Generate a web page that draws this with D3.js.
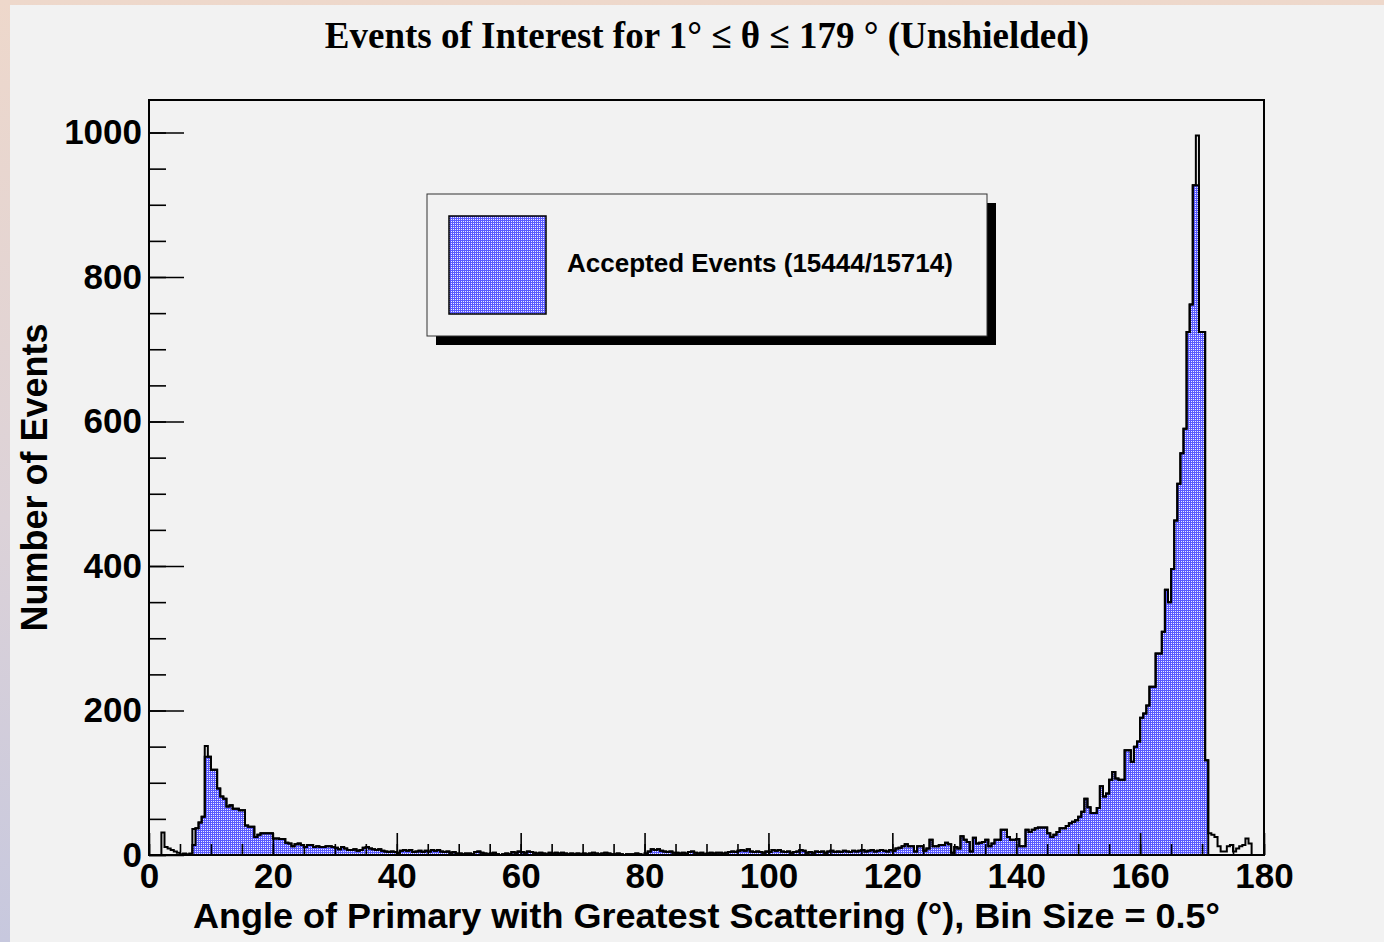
<!DOCTYPE html>
<html>
<head>
<meta charset="utf-8">
<script src="https://cdn.jsdelivr.net/npm/d3@7"></script>
<style>
  html, body { margin: 0; padding: 0; overflow: hidden; background: #f2f2f2; }
  svg { display: block; }
</style>
</head>
<body>
<svg id="chart" width="1384" height="942"></svg>
<script>
// Histogram of the scattering angle, 0.5 degree bins from 0 to 180.
const binWidth = 0.5;
const xDomain = [0, 180];

// Accepted events per bin (filled histogram), 20 bins (10 degrees) per row.
const accepted = [
  0,0,0,0,0,0,0,0,0,0, 0,0,0,0,14,37,45,53,136,136,
  118,118,92,81,78,67,69,64,64,62, 62,41,39,39,25,28,30,30,30,30,
  23,23,22,22,17,16,12,15,16,14, 11,14,14,11,12,11,11,12,12,11,
  10,8,11,9,7,7,8,6,7,10, 11,9,8,7,8,6,5,4,5,4,
  3,6,7,6,7,4,5,6,4,6, 5,7,6,7,5,4,5,3,4,2,
  2,1,2,2,1,4,5,3,2,1, 2,3,1,0,1,2,1,4,3,5,
  4,3,5,4,3,2,3,2,1,3, 2,3,2,3,2,1,2,1,2,1,
  2,1,2,3,2,1,2,3,2,1, 1,2,1,0,1,1,1,2,1,0,
  2,5,8,7,8,6,5,4,5,3, 3,2,3,2,4,5,3,2,3,1,
  2,3,2,3,3,2,3,4,5,4, 6,7,6,8,5,4,5,4,3,5,
  4,7,6,7,5,4,5,3,4,5, 7,6,3,4,3,5,4,5,3,5,
  6,4,5,4,6,5,4,6,5,6, 7,5,6,7,5,6,7,6,5,7,
  6,9,10,12,15,12,12,5,12,12, 6,9,21,12,12,14,14,17,15,3,
  11,9,26,21,18,5,24,16,17,18, 21,12,16,21,21,35,35,25,21,21,
  22,12,12,35,32,35,37,38,38,38, 30,25,28,32,37,37,40,44,46,48,
  53,60,78,66,58,58,65,95,81,85, 104,115,106,104,104,145,145,129,150,157,
  190,196,207,233,233,279,279,309,367,350, 396,463,514,556,590,724,762,927,927,724,
  724,131,0,0,0,0,0,0,0,0, 0,0,0,0,0,0,0,0,0,0
];

// Rejected events per bin; all events = accepted + rejected (outline histogram).
const rejected = [
  0,0,0,0,31,11,9,7,5,3, 1,2,1,2,22,0,0,0,15,0,
  0,0,0,0,0,0,0,0,0,0, 0,0,0,0,0,0,0,0,0,0,
  0,0,0,0,0,0,0,0,0,0, 0,0,0,0,0,0,0,0,0,0,
  0,0,0,0,0,0,0,0,0,0, 0,0,0,0,0,0,0,0,0,0,
  0,0,0,0,0,0,0,0,0,0, 0,0,0,0,0,0,0,0,0,0,
  0,0,0,0,0,0,0,0,0,0, 0,0,0,0,0,0,0,0,0,0,
  0,0,0,0,0,0,0,0,0,0, 0,0,0,0,0,0,0,0,0,0,
  0,0,0,0,0,0,0,0,0,0, 0,0,0,0,0,0,0,0,0,0,
  0,0,0,0,0,0,0,0,0,0, 0,0,0,0,0,0,0,0,0,0,
  0,0,0,0,0,0,0,0,0,0, 0,0,0,0,0,0,0,0,0,0,
  0,0,0,0,0,0,0,0,0,0, 0,0,0,0,0,0,0,0,0,0,
  0,0,0,0,0,0,0,0,0,0, 0,0,0,0,0,0,0,0,0,0,
  0,0,0,0,0,0,0,0,0,0, 0,0,0,0,0,0,0,0,0,0,
  0,0,0,0,0,0,0,0,0,0, 0,0,0,0,0,0,0,0,0,0,
  0,0,0,0,0,0,0,0,0,0, 0,0,0,0,0,0,0,0,0,0,
  0,0,0,0,0,0,0,0,0,0, 0,0,0,0,0,0,0,0,0,0,
  0,0,0,0,0,0,0,0,0,0, 0,0,0,0,0,0,0,0,69,0,
  0,0,30,28,25,12,5,5,12,14, 5,9,12,14,23,16,0,0,0,0
];

const xTickValues = [0, 20, 40, 60, 80, 100, 120, 140, 160, 180];
const xMinorTickValues = d3.range(0, 181, 5);
const yTickValues = [0, 200, 400, 600, 800, 1000];
const yMinorTickValues = d3.range(0, 1001, 50);
const yMax = 1045;

const titleText = "Events of Interest for 1\u00B0 \u2264 \u03B8 \u2264 179 \u00B0 (Unshielded)";
const xTitle = "Angle of Primary with Greatest Scattering (\u00B0), Bin Size = 0.5\u00B0";
const yTitle = "Number of Events";
const legendLabel = "Accepted Events (15444/15714)";

const allEvents = accepted.map((v, i) => v + rejected[i]);

const svg = d3.select("#chart");
const sans = "'Liberation Sans', Arial, Helvetica, sans-serif";
const serif = "'Liberation Serif', 'Times New Roman', serif";

// Page backdrop and canvas
const defs = svg.append("defs");
const bg = defs.append("linearGradient").attr("id", "pageGrad")
  .attr("x1", 0).attr("y1", 0).attr("x2", 0).attr("y2", 1);
bg.append("stop").attr("offset", "0%").attr("stop-color", "#eed8cb");
bg.append("stop").attr("offset", "55%").attr("stop-color", "#dcd2d8");
bg.append("stop").attr("offset", "100%").attr("stop-color", "#c7c8de");
svg.append("rect").attr("width", 1384).attr("height", 942).attr("fill", "url(#pageGrad)");
svg.append("rect").attr("x", 10).attr("y", 5).attr("width", 1374).attr("height", 937).attr("fill", "#f2f2f2");

// Dotted blue fill pattern
const pat = defs.append("pattern").attr("id", "dots")
  .attr("width", 2).attr("height", 2).attr("patternUnits", "userSpaceOnUse");
pat.append("rect").attr("width", 2).attr("height", 2).attr("fill", "#5a5aff");
pat.append("rect").attr("x", 1).attr("y", 1).attr("width", 1).attr("height", 1).attr("fill", "#ececff");

const frame = { left: 149, right: 1264, top: 100, bottom: 855 };
const x = d3.scaleLinear().domain(xDomain).range([frame.left, frame.right]);
const y = d3.scaleLinear().domain([0, yMax]).range([frame.bottom, frame.top]);

function stepPoints(counts) {
  const pts = [[x(xDomain[0]), y(0)]];
  counts.forEach((c, i) => {
    pts.push([x(i * binWidth), y(c)], [x((i + 1) * binWidth), y(c)]);
  });
  pts.push([x(xDomain[1]), y(0)]);
  return pts;
}
const line = d3.line();

// Accepted: filled histogram with black contour
svg.append("path").attr("d", line(stepPoints(accepted)) + "Z")
  .attr("fill", "url(#dots)").attr("stroke", "none");
svg.append("path").attr("d", line(stepPoints(accepted)))
  .attr("fill", "none").attr("stroke", "#000").attr("stroke-width", 2);

// All events: outline histogram
svg.append("path").attr("d", line(stepPoints(allEvents)))
  .attr("fill", "none").attr("stroke", "#000").attr("stroke-width", 2);

// Axes: ticks drawn inward from the frame
function styleAxis(g) {
  g.select(".domain").remove();
  g.selectAll(".tick line").attr("stroke", "#000").attr("stroke-width", 1.6);
  g.selectAll(".tick text").attr("fill", "#000")
    .style("font-family", sans).style("font-weight", "bold").style("font-size", "35px");
}
svg.append("g").attr("transform", `translate(0,${frame.bottom})`)
  .call(d3.axisBottom(x).tickValues(xMinorTickValues).tickSize(-11).tickFormat(""))
  .call(styleAxis);
svg.append("g").attr("transform", `translate(0,${frame.bottom})`)
  .call(d3.axisBottom(x).tickValues(xTickValues).tickSize(-22).tickPadding(8).tickFormat(d3.format("d")))
  .call(styleAxis);
svg.append("g").attr("transform", `translate(${frame.left},0)`)
  .call(d3.axisLeft(y).tickValues(yMinorTickValues).tickSize(-17).tickFormat(""))
  .call(styleAxis);
svg.append("g").attr("transform", `translate(${frame.left},0)`)
  .call(d3.axisLeft(y).tickValues(yTickValues).tickSize(-35).tickPadding(7).tickFormat(d3.format("d")))
  .call(styleAxis);

// Frame
svg.append("rect")
  .attr("x", frame.left).attr("y", frame.top)
  .attr("width", frame.right - frame.left).attr("height", frame.bottom - frame.top)
  .attr("fill", "none").attr("stroke", "#000").attr("stroke-width", 2);

// Title and axis titles
svg.append("text").attr("x", 707).attr("y", 48).attr("text-anchor", "middle")
  .style("font-family", serif).style("font-weight", "bold").style("font-size", "37px")
  .text(titleText);
svg.append("text").attr("x", (frame.left + frame.right) / 2).attr("y", 928).attr("text-anchor", "middle")
  .style("font-family", sans).style("font-weight", "bold").style("font-size", "35px")
  .attr("textLength", 1027).attr("lengthAdjust", "spacingAndGlyphs")
  .text(xTitle);
svg.append("text").attr("transform", `translate(47,${(frame.top + frame.bottom) / 2}) rotate(-90)`)
  .attr("text-anchor", "middle")
  .style("font-family", sans).style("font-weight", "bold").style("font-size", "36px")
  .text(yTitle);

// Legend with drop shadow
const legend = { x: 427, y: 194, w: 560, h: 142, shadow: 9 };
svg.append("rect").attr("x", legend.x + legend.shadow).attr("y", legend.y + legend.shadow)
  .attr("width", legend.w).attr("height", legend.h).attr("fill", "#000");
svg.append("rect").attr("x", legend.x).attr("y", legend.y)
  .attr("width", legend.w).attr("height", legend.h)
  .attr("fill", "#f2f2f2").attr("stroke", "#333").attr("stroke-width", 1);
svg.append("rect").attr("x", 449).attr("y", 216).attr("width", 97).attr("height", 98)
  .attr("fill", "url(#dots)").attr("stroke", "#000").attr("stroke-width", 1.5);
svg.append("text").attr("x", 567).attr("y", 272)
  .style("font-family", sans).style("font-weight", "bold").style("font-size", "26px")
  .text(legendLabel);
</script>
</body>
</html>
